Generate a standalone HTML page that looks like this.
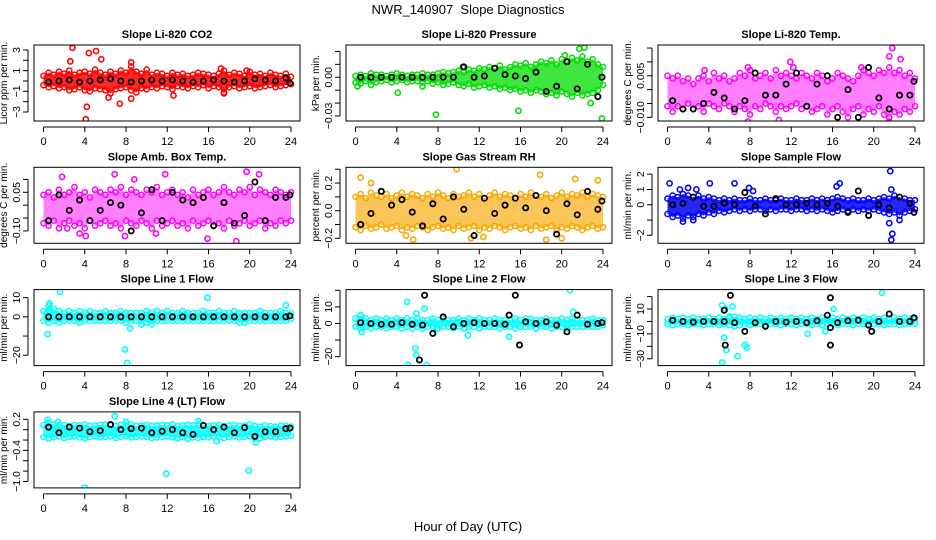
<!DOCTYPE html>
<html><head><meta charset="utf-8"><style>
body{margin:0;background:#fff;}
svg{display:block;font-family:"Liberation Sans",Arial,sans-serif;}
</style></head><body>
<svg id="chart" width="936" height="540" viewBox="0 0 936 540">
<text x="468" y="14" text-anchor="middle" font-size="13" style="white-space:pre">NWR_140907  Slope Diagnostics</text>
<text x="468" y="531" text-anchor="middle" font-size="13">Hour of Day (UTC)</text>
</svg>
<script>
const H = [0,0.5,1,1.5,2,2.5,3,3.5,4,4.5,5,5.5,6,6.5,7,7.5,8,8.5,9,9.5,10,10.5,11,11.5,12,12.5,13,13.5,14,14.5,15,15.5,16,16.5,17,17.5,18,18.5,19,19.5,20,20.5,21,21.5,22,22.5,23,23.5,24];
const KH = [0.5,1.5,2.5,3.5,4.5,5.5,6.5,7.5,8.5,9.5,10.5,11.5,12.5,13.5,14.5,15.5,16.5,17.5,18.5,19.5,20.5,21.5,22.5,23.5,23.9];
const xTicks = [0,4,8,12,16,20,24];

const co2Hi = [0.5,0.8,0.6,0.9,0.7,1.0,0.6,0.8,0.9,0.7,1.1,0.8,0.6,0.9,0.7,1.0,0.8,1.4,0.9,0.7,1.1,0.6,0.8,0.7,0.5,0.8,0.6,0.7,0.5,0.6,0.8,0.7,0.6,0.5,0.7,1.0,0.6,0.8,0.7,0.5,0.9,0.6,0.7,0.5,0.8,0.6,0.5,0.7,0.4];
const co2Lo = [-0.4,-0.6,-0.5,-0.7,-0.6,-0.9,-0.8,-0.6,-0.9,-1.0,-0.7,-0.8,-0.9,-1.2,-0.8,-0.7,-0.6,-0.9,-1.1,-0.7,-0.8,-0.6,-0.7,-0.5,-0.6,-0.8,-0.5,-0.6,-0.7,-0.5,-0.6,-0.4,-0.7,-0.5,-0.6,-1.2,-0.6,-0.5,-0.7,-0.6,-0.5,-0.7,-0.6,-0.5,-0.4,-0.6,-0.5,-0.4,-0.3];
const co2OutX = [2.8,2.6,4.4,5.1,5.6,4.1,4.2,6.3,7.4,8.5,8.5,12.6,17.5,17.2,19.7];
const co2OutY = [3.2,1.9,2.7,2.9,2.1,-3.7,-2.5,-1.6,-2.2,-1.7,1.8,-1.4,-1.1,1.2,1.0];
const co2Blk = [-0.1,0,0.1,-0.1,0,0.1,0.2,0,-0.1,0,0.1,0,0.1,0,-0.1,0,0.1,0,-0.1,0,0.2,0.1,0,0.3,-0.2];

const prsHi = [0.001,0.002,0.001,0.003,0.002,0.002,0.001,0.002,0.003,0.002,0.001,0.002,0.002,0.003,0.002,0.002,0.003,0.004,0.003,0.004,0.005,0.004,0.006,0.005,0.007,0.006,0.008,0.007,0.009,0.006,0.008,0.010,0.009,0.011,0.008,0.010,0.012,0.011,0.013,0.010,0.014,0.012,0.015,0.013,0.016,0.012,0.014,0.010,0.008];
const prsLo = [-0.004,-0.005,-0.003,-0.006,-0.004,-0.003,-0.002,-0.004,-0.003,-0.002,-0.004,-0.003,-0.003,-0.004,-0.003,-0.005,-0.004,-0.006,-0.005,-0.004,-0.006,-0.007,-0.005,-0.008,-0.007,-0.006,-0.008,-0.007,-0.009,-0.008,-0.010,-0.009,-0.011,-0.010,-0.012,-0.010,-0.011,-0.013,-0.012,-0.014,-0.011,-0.013,-0.015,-0.012,-0.014,-0.013,-0.012,-0.010,-0.006];
const prsOutX = [7.8,15.8,23.9,21.7,22.2,22.8,20.3,10.4,4.1,0.2,6.5];
const prsOutY = [-0.029,-0.026,-0.032,0.022,0.023,-0.020,0.017,0.008,-0.012,-0.007,-0.007];
const prsBlk = [0,0,0,0,0,0,0,0,0,0,0.008,0,0.001,0.007,0.002,0.001,-0.001,0.004,-0.011,-0.007,0.012,-0.009,0.010,-0.015,0.000];

const tmpHi = [0.005,0.004,0.005,0.003,0.004,0.002,0.004,0.005,0.003,0.006,0.004,0.005,0.003,0.004,0.006,0.005,0.007,0.004,0.005,0.006,0.004,0.007,0.005,0.006,0.005,0.004,0.006,0.005,0.004,0.006,0.005,0.003,0.004,0.006,0.005,0.004,0.003,0.005,0.007,0.006,0.005,0.007,0.006,0.008,0.006,0.007,0.005,0.006,0.004];
const tmpLo = [-0.006,-0.008,-0.006,-0.007,-0.005,-0.007,-0.006,-0.008,-0.005,-0.006,-0.007,-0.005,-0.006,-0.008,-0.006,-0.007,-0.009,-0.006,-0.007,-0.005,-0.006,-0.008,-0.006,-0.007,-0.006,-0.005,-0.007,-0.006,-0.008,-0.007,-0.006,-0.009,-0.007,-0.006,-0.008,-0.010,-0.007,-0.006,-0.009,-0.007,-0.008,-0.006,-0.009,-0.010,-0.008,-0.009,-0.007,-0.008,-0.006];
const tmpOutX = [7.8,10.8,21.5,21.8,21.5,22.6,11.9,7.8,3.6,12.2,18.8];
const tmpOutY = [-0.0115,-0.011,-0.0115,0.015,0.012,0.011,0.010,0.008,0.007,0.008,0.008];
const tmpBlk = [-0.004,-0.007,-0.007,-0.005,-0.001,-0.003,-0.007,-0.004,0.006,-0.002,-0.002,0.002,0.006,-0.006,0.002,0.005,-0.010,0.000,-0.010,0.008,-0.003,-0.007,-0.002,-0.002,0.003];

const ambHi = [0.04,0.05,0.03,0.06,0.04,0.05,0.07,0.04,0.05,0.03,0.06,0.05,0.04,0.06,0.05,0.07,0.04,0.06,0.05,0.04,0.06,0.05,0.07,0.04,0.05,0.06,0.04,0.05,0.03,0.06,0.04,0.05,0.06,0.04,0.05,0.07,0.05,0.04,0.06,0.05,0.07,0.04,0.06,0.05,0.04,0.06,0.05,0.04,0.05];
const ambLo = [-0.07,-0.08,-0.06,-0.09,-0.07,-0.06,-0.08,-0.07,-0.09,-0.06,-0.08,-0.07,-0.06,-0.08,-0.07,-0.09,-0.06,-0.07,-0.08,-0.06,-0.07,-0.09,-0.06,-0.08,-0.07,-0.06,-0.08,-0.07,-0.09,-0.06,-0.08,-0.07,-0.06,-0.08,-0.07,-0.09,-0.06,-0.08,-0.07,-0.06,-0.08,-0.07,-0.06,-0.09,-0.07,-0.08,-0.06,-0.07,-0.06];
const ambOutX = [1.8,6.9,19.7,20.9,4.1,7.9,18.7,15.9,11.8,3.5,10.9,2.3,8.8];
const ambOutY = [0.11,0.12,0.13,0.12,-0.12,-0.12,-0.14,-0.13,0.12,-0.11,-0.11,-0.09,0.10];
const ambBlk = [-0.06,0.04,-0.02,0.02,-0.06,-0.02,0.01,0.00,-0.10,-0.03,0.06,-0.06,0.05,0.02,0.01,0.03,-0.08,0.01,-0.07,-0.04,0.09,-0.06,0.03,0.03,0.04];

const rhHi = [0.10,0.12,0.09,0.13,0.11,0.10,0.12,0.09,0.11,0.13,0.10,0.12,0.11,0.09,0.12,0.10,0.13,0.11,0.09,0.12,0.10,0.11,0.13,0.10,0.12,0.09,0.11,0.13,0.10,0.12,0.11,0.09,0.12,0.10,0.13,0.11,0.10,0.12,0.09,0.11,0.13,0.10,0.12,0.11,0.13,0.10,0.12,0.11,0.10];
const rhLo = [-0.12,-0.14,-0.11,-0.13,-0.12,-0.10,-0.13,-0.12,-0.11,-0.14,-0.12,-0.13,-0.11,-0.12,-0.14,-0.12,-0.11,-0.13,-0.12,-0.14,-0.11,-0.13,-0.12,-0.11,-0.14,-0.12,-0.13,-0.11,-0.12,-0.14,-0.12,-0.11,-0.13,-0.12,-0.14,-0.11,-0.13,-0.12,-0.11,-0.14,-0.12,-0.13,-0.11,-0.12,-0.14,-0.12,-0.11,-0.13,-0.12];
const rhOutX = [0.5,9.8,17.9,21.3,23.5,5.6,11.2,18.5,20.0,4.9,12.4,1.5];
const rhOutY = [0.24,0.30,0.26,0.23,0.22,-0.21,-0.20,-0.21,-0.20,-0.18,-0.19,0.20];
const rhBlk = [-0.10,-0.02,0.14,0.04,0.08,-0.01,-0.11,0.05,-0.06,0.10,0.01,-0.18,0.09,-0.02,0.04,0.09,0.02,0.11,0.00,-0.17,0.05,-0.03,0.14,0.01,0.07];

const sfHi = [0.4,0.6,0.5,0.7,0.6,0.5,0.6,0.4,0.5,0.4,0.3,0.4,0.3,0.4,0.3,0.3,0.4,0.3,0.3,0.4,0.3,0.3,0.4,0.3,0.3,0.4,0.3,0.3,0.4,0.3,0.4,0.3,0.4,0.5,0.4,0.3,0.4,0.3,0.3,0.4,0.3,0.4,0.5,0.4,0.6,0.5,0.4,0.3,0.3];
const sfLo = [-0.6,-0.8,-0.7,-0.9,-0.7,-0.8,-0.6,-0.7,-0.5,-0.6,-0.4,-0.5,-0.4,-0.3,-0.4,-0.3,-0.4,-0.3,-0.3,-0.4,-0.3,-0.4,-0.3,-0.3,-0.4,-0.3,-0.3,-0.4,-0.3,-0.4,-0.3,-0.4,-0.5,-0.4,-0.3,-0.4,-0.3,-0.4,-0.3,-0.4,-0.3,-0.4,-0.5,-0.6,-0.5,-0.7,-0.5,-0.4,-0.3];
const sfOutX = [0.2,1.2,2.0,2.8,1.5,2.5,7.9,6.5,16.4,16.7,21.6,21.7,21.5,21.8,21.7,22.5,8.3,4.1];
const sfOutY = [1.4,1.0,1.1,1.0,-1.1,-1.0,1.1,1.4,1.2,1.4,2.2,1.0,-1.2,-1.9,-2.3,-1.0,0.9,1.4];
const sfBlk = [0.0,0.1,0.5,-0.1,-0.1,0.1,0.0,0.8,-0.1,-0.6,0.4,0.0,0.0,0.1,0.0,0.1,-0.1,-0.5,0.9,-0.7,0.0,-0.2,0.5,0.1,-0.5];

const l1Hi = [3,6,4,3,2,3,2,3,2,3,2,2,3,2,2,3,2,2,2,2,3,2,3,2,3,2,2,3,2,2,2,3,2,2,3,2,2,3,2,2,2,2,3,2,2,2,3,2,2];
const l1Lo = [-2,-3,-2,-3,-2,-2,-2,-3,-2,-2,-2,-2,-2,-2,-2,-2,-3,-2,-2,-2,-3,-4,-2,-2,-2,-2,-2,-2,-2,-2,-2,-2,-2,-2,-2,-2,-2,-2,-3,-3,-2,-2,-2,-2,-2,-2,-2,-2,-1];
const l1OutX = [0.4,1.6,0.6,7.9,8.1,8.4,15.9,23.5,9.5];
const l1OutY = [-9,13,7,-17,-24,-6,10,6,-4];
const l1Blk = [0,0,0,0,0,0,0,0,0,0,0,0,0,0,0,0,0,0,0,0,0,0,0,0,0.5];

const l2Hi = [3,5,3,2,3,2,3,2,3,2,3,2,3,2,2,3,2,3,2,2,3,2,3,2,3,2,2,3,2,2,2,3,2,3,3,2,2,3,2,2,3,2,3,2,2,2,3,2,2];
const l2Lo = [-2,-3,-2,-3,-2,-2,-3,-2,-2,-3,-2,-3,-2,-3,-2,-2,-3,-2,-2,-3,-2,-3,-2,-2,-3,-2,-2,-2,-3,-2,-2,-3,-2,-2,-2,-3,-2,-2,-3,-2,-2,-3,-2,-2,-2,-2,-2,-2,-1];
const l2OutX = [0.5,0.6,5.0,5.9,6.7,5.8,5.9,5.1,6.9,10.9,14.9,20.8,21.1,7.9,13];
const l2OutY = [5,-5,13,6,9,-15,-19,-25,-25,-7,-8,20,7,-3,-2];
const l2Blk = [0.5,0,-0.5,-0.5,0.5,-0.5,-1,-6,4,-2,0,0.5,0,0,-0.5,17,1,0,1,-1,-5,5,-0.5,0,0.5];
const l2BlkOutX = [6.7,6.2,15.9,14.9];
const l2BlkOutY = [17,-22,-13,5];

const l3Hi = [2,3,2,3,2,3,2,2,3,2,3,2,3,4,3,2,3,2,3,2,3,2,3,2,3,2,3,2,3,2,3,2,3,2,3,2,3,2,3,2,3,2,3,2,3,2,3,2,2];
const l3Lo = [-2,-3,-2,-2,-3,-2,-2,-3,-2,-2,-3,-2,-3,-4,-3,-2,-3,-2,-2,-3,-2,-2,-3,-2,-2,-3,-2,-2,-3,-2,-3,-2,-2,-3,-2,-2,-3,-2,-2,-3,-2,-2,-3,-2,-2,-3,-2,-2,-2];
const l3OutX = [5.3,5.6,6.3,5.5,5.7,5.3,6.8,7.5,7.7,6.0,13.6,15.3,16.1,20.8,19.3];
const l3OutY = [13,10,12,-13,-23,-33,-28,-19,-21,4,-10,-8,10,23,-2];
const l3Blk = [1,0,-0.5,0,0,0,-1,-8,-1,-4,0,-0.5,0,-1,0.5,5,-1,0.5,1,-3,0,6,0,0,3];
const l3BlkOutX = [5.5,6.1,5.6,15.8,15.8,15.8,19.8];
const l3BlkOutY = [9,21,-19,19,-19,-5,-8];

const l4Hi = [0.09,0.13,0.10,0.08,0.09,0.07,0.09,0.08,0.10,0.07,0.08,0.09,0.10,0.08,0.07,0.09,0.08,0.10,0.07,0.08,0.09,0.07,0.08,0.09,0.08,0.10,0.07,0.08,0.09,0.08,0.10,0.09,0.07,0.08,0.09,0.07,0.08,0.09,0.07,0.08,0.10,0.07,0.06,0.08,0.07,0.06,0.08,0.07,0.06];
const l4Lo = [-0.14,-0.17,-0.15,-0.13,-0.16,-0.14,-0.13,-0.15,-0.17,-0.14,-0.13,-0.15,-0.14,-0.13,-0.16,-0.14,-0.13,-0.15,-0.14,-0.13,-0.14,-0.16,-0.15,-0.14,-0.13,-0.15,-0.17,-0.14,-0.18,-0.15,-0.16,-0.14,-0.15,-0.13,-0.14,-0.16,-0.14,-0.13,-0.15,-0.14,-0.13,-0.17,-0.16,-0.14,-0.13,-0.15,-0.14,-0.13,-0.12];
const l4OutX = [0.4,6.9,4.0,11.9,19.9,16.8,20.6,1.4,15.0,8.0];
const l4OutY = [0.19,0.26,-1.12,-0.85,-0.79,-0.22,-0.25,0.15,0.17,0.15];
const l4Blk = [0.05,-0.06,0.05,0.03,-0.04,-0.02,0.10,0.00,0.02,0.03,-0.06,-0.03,0.00,-0.06,-0.09,0.08,0.00,0.05,-0.06,0.04,-0.13,-0.04,-0.04,0.02,0.03];

const yTicks1 = [-3,-2,-1,0,1,2,3], yLab1 = [-3,-1,1,3];
const yTicks2 = [-0.03,-0.02,-0.01,0,0.01,0.02], yLab2 = ["-0.03","0.00"];
const yTicks3 = [-0.010,-0.005,0,0.005,0.010,0.015], yLab3 = ["-0.010","0.005"];
const yTicks4 = [-0.10,-0.05,0,0.05,0.10], yLab4 = ["-0.10","0.05"];
const yTicks5 = [-0.2,-0.1,0,0.1,0.2,0.3], yLab5 = ["-0.2","0.0","0.2"];
const yTicks6 = [-2,-1,0,1,2], yLab6 = ["-2","0","1","2"];
const yTicks7 = [-20,-10,0,10], yLab7 = ["-20","0","10"];
const yTicks8 = [-20,-10,0,10,20], yLab8 = ["-20","0","10"];
const yTicks9 = [-30,-20,-10,0,10,20], yLab9 = ["-30","-10","10"];
const yTicks10 = [-1.0,-0.8,-0.6,-0.4,-0.2,0,0.2], yLab10 = ["-1.0","-0.4","0.2"];

const panels = [
 {name:"co2",title:"Slope Li-820 CO2",ylab:"Licor ppm per min.",col:"#ff0000",op:0.85,r:0,c:0,ymin:-3.87,ymax:3.48,hi:co2Hi,lo:co2Lo,ox:co2OutX,oy:co2OutY,k:co2Blk,yt:yTicks1,yl:yLab1},
 {name:"pressure",title:"Slope Li-820 Pressure",ylab:"kPa per min.",col:"#00dd00",op:0.75,r:0,c:1,ymin:-0.0339,ymax:0.025,hi:prsHi,lo:prsLo,ox:prsOutX,oy:prsOutY,k:prsBlk,yt:yTicks2,yl:yLab2},
 {name:"temp",title:"Slope Li-820 Temp.",ylab:"degrees C per min.",col:"#ff00ff",op:0.5,r:0,c:2,ymin:-0.01133,ymax:0.0161,hi:tmpHi,lo:tmpLo,ox:tmpOutX,oy:tmpOutY,k:tmpBlk,yt:yTicks3,yl:yLab3},
 {name:"amb-box-temp",title:"Slope Amb. Box Temp.",ylab:"degrees C per min.",col:"#ff00ff",op:0.5,r:1,c:0,ymin:-0.148,ymax:0.147,hi:ambHi,lo:ambLo,ox:ambOutX,oy:ambOutY,k:ambBlk,yt:yTicks4,yl:yLab4},
 {name:"gas-stream-rh",title:"Slope Gas Stream RH",ylab:"percent per min.",col:"#f7a800",op:0.65,r:1,c:1,ymin:-0.236,ymax:0.314,hi:rhHi,lo:rhLo,ox:rhOutX,oy:rhOutY,k:rhBlk,yt:yTicks5,yl:yLab5},
 {name:"sample-flow",title:"Slope Sample Flow",ylab:"ml/min per min.",col:"#0000ff",op:0.85,r:1,c:2,ymin:-2.52,ymax:2.45,hi:sfHi,lo:sfLo,ox:sfOutX,oy:sfOutY,k:sfBlk,yt:yTicks6,yl:yLab6},
 {name:"line1-flow",title:"Slope Line 1 Flow",ylab:"ml/min per min.",col:"#00ffff",op:0.85,r:2,c:0,ymin:-25.4,ymax:14.2,hi:l1Hi,lo:l1Lo,ox:l1OutX,oy:l1OutY,k:l1Blk,yt:yTicks7,yl:yLab7},
 {name:"line2-flow",title:"Slope Line 2 Flow",ylab:"ml/min per min.",col:"#00ffff",op:0.85,r:2,c:1,ymin:-25.4,ymax:20.4,hi:l2Hi,lo:l2Lo,ox:l2OutX,oy:l2OutY,k:l2Blk,kx:l2BlkOutX,ky:l2BlkOutY,yt:yTicks8,yl:yLab8},
 {name:"line3-flow",title:"Slope Line 3 Flow",ylab:"ml/min per min.",col:"#00ffff",op:0.85,r:2,c:2,ymin:-35.5,ymax:25.6,hi:l3Hi,lo:l3Lo,ox:l3OutX,oy:l3OutY,k:l3Blk,kx:l3BlkOutX,ky:l3BlkOutY,yt:yTicks9,yl:yLab9},
 {name:"line4-flow",title:"Slope Line 4 (LT) Flow",ylab:"ml/min per min.",col:"#00ffff",op:0.85,r:3,c:0,ymin:-1.124,ymax:0.343,hi:l4Hi,lo:l4Lo,ox:l4OutX,oy:l4OutY,k:l4Blk,yt:yTicks10,yl:yLab10}
];

const NS = "http://www.w3.org/2000/svg";
const svg = document.getElementById("chart");
function mk(tag, attrs, parent){
  const e = document.createElementNS(NS, tag);
  for (const a in attrs) e.setAttribute(a, attrs[a]);
  parent.appendChild(e);
  return e;
}
panels.forEach(p => {
  const L = 34 + 312*p.c, T = 45 + 122.3*p.r, W = 266, Hh = 76;
  const x0 = L + 9.5, x24 = L + 257;
  const sx = v => x0 + (x24 - x0) * v / 24;
  const sy = v => T + Hh - (v - p.ymin) / (p.ymax - p.ymin) * Hh;
  const g = mk("g", {}, svg);
  
  
  const cp = mk("clipPath", {id: "clip-" + p.name}, g);
  mk("rect", {x: L, y: T, width: W, height: Hh}, cp);
  const plot = mk("g", {"clip-path": "url(#clip-" + p.name + ")"}, g);
  
  
  let pts = [];
  H.forEach((h, i) => pts.push(sx(h) + "," + sy(p.hi[i])));
  for (let i = H.length - 1; i >= 0; i--) pts.push(sx(H[i]) + "," + sy(p.lo[i]));
  const band = mk("polygon", {points: pts.join(" "), fill: p.col, "fill-opacity": p.op, stroke: "none"}, plot);
  
  
  const circ = (x, y, col, w) => {
    const c = mk("circle", {cx: sx(x), cy: sy(y), r: 2.6, fill: "none", stroke: col, "stroke-width": w}, plot);
    
    
  };
  H.forEach((h, i) => { circ(h, p.hi[i], p.col, 1.5); circ(h, p.lo[i], p.col, 1.5); });
  p.ox.forEach((x, i) => circ(x, p.oy[i], p.col, 1.6));
  KH.forEach((h, i) => circ(h, p.k[i], "#000", 1.8));
  if (p.kx) p.kx.forEach((x, i) => circ(x, p.ky[i], "#000", 1.8));
  const box = mk("rect", {x: L, y: T, width: W, height: Hh, fill: "none", stroke: "#000", "stroke-width": 1}, g);
  
  
  const t = mk("text", {x: L + W/2, y: T - 7, "text-anchor": "middle", "font-size": 11, "font-weight": "bold"}, g);
  t.textContent = p.title;
  
  
  mk("line", {x1: sx(0), x2: sx(24), y1: T + Hh + 6, y2: T + Hh + 6, stroke: "#000"}, g);
  xTicks.forEach(v => {
    mk("line", {x1: sx(v), x2: sx(v), y1: T + Hh + 6, y2: T + Hh + 11, stroke: "#000"}, g);
    const tl = mk("text", {x: sx(v), y: T + Hh + 24, "text-anchor": "middle", "font-size": 11}, g);
    tl.textContent = v;
    
    
  });
  const yt0 = sy(p.yt[0]), yt1 = sy(p.yt[p.yt.length - 1]);
  mk("line", {x1: L - 6, x2: L - 6, y1: yt0, y2: yt1, stroke: "#000"}, g);
  p.yt.forEach(v => mk("line", {x1: L - 11, x2: L - 6, y1: sy(v), y2: sy(v), stroke: "#000"}, g));
  p.yl.forEach(v => {
    const yy = sy(parseFloat(v));
    const tl = mk("text", {x: L - 14, y: yy, "text-anchor": "middle", "font-size": 10.5, transform: "rotate(-90 " + (L - 14) + " " + yy + ")"}, g);
    tl.textContent = String(v).replace("-", "\u2212");
    
    
  });
  const yl = mk("text", {x: L - 27, y: T + Hh/2, "text-anchor": "middle", "font-size": 10, transform: "rotate(-90 " + (L - 27) + " " + (T + Hh/2) + ")"}, g);
  yl.textContent = p.ylab;
  
  
});
</script>
</body></html>
